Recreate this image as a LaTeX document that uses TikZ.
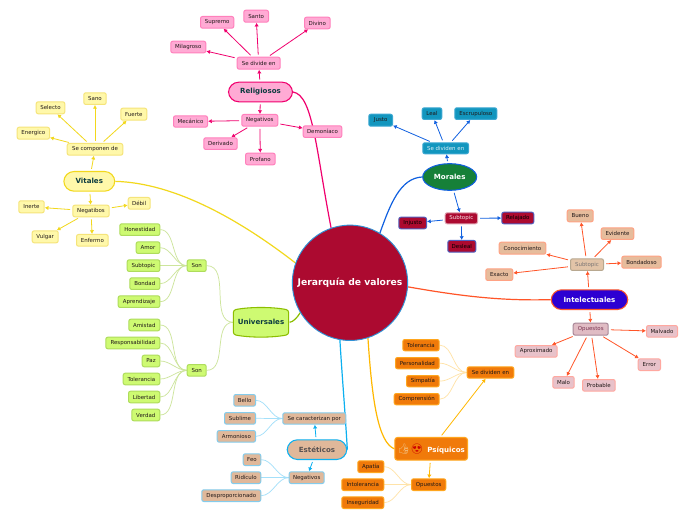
\documentclass[tikz,border=0pt]{standalone}
\usepackage{fontspec}
\setmainfont{DejaVu Sans}
\newfontfamily\emojifont{Noto Emoji}
\usetikzlibrary{arrows.meta,shapes.geometric}
\definecolor{rl}{HTML}{F0006E}\definecolor{rf}{HTML}{FFAAD4}\definecolor{rb}{HTML}{FF80BC}
\definecolor{vl}{HTML}{F2D81C}\definecolor{vf}{HTML}{FFF8AA}\definecolor{vb}{HTML}{F5E47A}
\definecolor{ul}{HTML}{CDE59C}\definecolor{uf}{HTML}{CEFA72}\definecolor{ub}{HTML}{AEDC5C}\definecolor{um}{HTML}{8CBE00}
\definecolor{el}{HTML}{A4E0FA}\definecolor{ef}{HTML}{E0B89A}\definecolor{eb}{HTML}{84CCEC}\definecolor{em}{HTML}{0CB0F0}
\definecolor{pl}{HTML}{FFE3A8}\definecolor{pf}{HTML}{F07A0A}\definecolor{pb}{HTML}{FFA61E}\definecolor{pm}{HTML}{FFB800}
\definecolor{ml}{HTML}{1060E0}\definecolor{mf}{HTML}{1296BE}\definecolor{mb}{HTML}{3CA8D2}
\definecolor{dr}{HTML}{AC0A30}\definecolor{drb}{HTML}{5060C0}\definecolor{gr}{HTML}{168038}
\definecolor{il}{HTML}{FF5528}\definecolor{if}{HTML}{E6BC9C}\definecolor{ib}{HTML}{FFA284}
\definecolor{of}{HTML}{E8C2CA}\definecolor{ob}{HTML}{FFA8A0}\definecolor{opf}{HTML}{E0BCC4}\definecolor{opb}{HTML}{A88898}
\definecolor{stf}{HTML}{E2C4A8}\definecolor{stb}{HTML}{B8A890}
\definecolor{ink}{HTML}{201818}\definecolor{head}{HTML}{0C3C40}\definecolor{thumb}{HTML}{F2C488}
\pgfdeclarelayer{bg}\pgfsetlayers{bg,main}
\tikzset{
  box/.style={rectangle,rounded corners=1.5pt,inner sep=0pt,line width=.75pt,draw,font=\fontsize{4.1}{5}\selectfont,text=ink},
  big/.style={rectangle,inner sep=0pt,line width=.8pt,draw,font=\fontsize{5.3}{6}\selectfont\bfseries},
  rbox/.style={box,fill=rf,draw=rb}, vbox/.style={box,fill=vf,draw=vb},
  ubox/.style={box,fill=uf,draw=ub}, ebox/.style={box,fill=ef,draw=eb},
  pbox/.style={box,fill=pf,draw=pb}, mbox/.style={box,fill=mf,draw=mb},
  dbox/.style={box,fill=dr,draw=drb,text=black}, ibox/.style={box,fill=if,draw=ib},
  obox/.style={box,fill=of,draw=ob},
  main line/.style={line width=.9pt},
  arrowline/.style={line width=.6pt,shorten <=1.6pt,-{Latex[length=2.8pt,width=3.2pt]}},
  branch/.style={line width=.55pt}
}
\newcommand\bx[7]{\node[#1,minimum width={(#5-#3)*0.75pt-0.75pt},minimum height={(#6-#4)*0.75pt-0.75pt}] (#2) at ({(#3+#5)/2},{(#4+#6)/2}) {#7};}
\begin{document}
\begin{tikzpicture}[x=0.75pt,y=-0.75pt]
\begin{pgfonlayer}{bg}
\fill[white] (0,0) rectangle (696,520);
\end{pgfonlayer}
\useasboundingbox (0,0) rectangle (696,520);
% centre
\node[circle,minimum size=86.5pt,inner sep=0pt,fill=dr,draw=mb!70!ml,line width=.7pt,text=white,font=\fontsize{6.9}{8}\selectfont\bfseries] (ctr) at (350,282.8) {Jerarquía de valores};
% Religiosos
\bx{big,fill=rf,draw=rl,rounded corners=7.7pt,text=head}{reli}{228}{81.7}{293}{102.3}{Religiosos}
\bx{rbox}{rdiv}{236.7}{56.7}{280.7}{69.7}{Se divide en}
\bx{rbox}{sup}{200}{16}{234.3}{28.7}{Supremo}
\bx{rbox}{san}{243.3}{9.7}{269}{22.7}{Santo}
\bx{rbox}{div}{304}{16.7}{330.7}{29.3}{Divino}
\bx{rbox}{mil}{170.3}{40.7}{206.3}{53.3}{Milagroso}
\bx{rbox}{rneg}{241.3}{114}{278.3}{126.7}{Negativos}
\bx{rbox}{mec}{173}{115.3}{208}{127.7}{Mecánico}
\bx{rbox}{der}{203.3}{137.3}{237.7}{150}{Derivado}
\bx{rbox}{pro}{245}{152.7}{275.7}{165.3}{Profano}
\bx{rbox}{dem}{302.7}{125.3}{342.3}{138}{Demoníaco}
% Vitales
\bx{big,fill=vf,draw=vl,rounded corners=7.7pt,text=head}{vit}{63.3}{171}{115.3}{191.7}{Vitales}
\bx{vbox}{vcom}{66.7}{143}{123.3}{155.7}{Se componen de}
\bx{vbox}{sano}{83.3}{92.3}{106.7}{105}{Sano}
\bx{vbox}{sel}{35.7}{101.3}{65.3}{114.3}{Selecto}
\bx{vbox}{fue}{120.3}{107.7}{147.3}{120.7}{Fuerte}
\bx{vbox}{ene}{16.7}{126.7}{50}{139.7}{Energico}
\bx{vbox}{vneg}{72.3}{204.7}{109.7}{217.3}{Negatibos}
\bx{vbox}{ine}{18.3}{200.3}{44.7}{213.3}{Inerte}
\bx{vbox}{deb}{127.7}{197}{150.7}{209.7}{Débil}
\bx{vbox}{vul}{31.7}{230.3}{58.7}{243.3}{Vulgar}
\bx{vbox}{enf}{76}{234}{108.7}{246.7}{Enfermo}
% Universales
\bx{ubox}{hon}{119.3}{223.3}{160.3}{236}{Honestidad}
\bx{ubox}{amo}{135.7}{241.3}{160.3}{254}{Amor}
\bx{ubox}{sub}{126.7}{259.3}{160.3}{272}{Subtopic}
\bx{ubox}{bon}{129.3}{277.3}{160.3}{290}{Bondad}
\bx{ubox}{apr}{117.7}{295.3}{160.3}{308}{Aprendizaje}
\bx{ubox}{son}{186.7}{259.3}{206.7}{272}{Son}
\bx{ubox}{ami}{128.3}{318.7}{160.3}{331.3}{Amistad}
\bx{ubox}{res}{105.3}{336.7}{160.3}{349.3}{Responsabilidad}
\bx{ubox}{paz}{141.7}{354.7}{160.3}{367.3}{Paz}
\bx{ubox}{tol}{122.7}{372.7}{160.3}{385.3}{Tolerancia}
\bx{ubox}{lib}{128}{390.7}{160.3}{403.3}{Libertad}
\bx{ubox}{ver}{131.3}{408.7}{160.3}{421.3}{Verdad}
\bx{ubox}{sonb}{186.7}{364}{206.7}{376.7}{Son}
\filldraw[fill=uf,draw=um,line width=.8pt,rounded corners=2pt] (233.3,310) .. controls (250,306.8) and (272,306.8) .. (288.7,310) -- (288.7,334.6) .. controls (272,337.8) and (250,337.8) .. (233.3,334.6) -- cycle;
\node[inner sep=0pt,minimum width=41pt,minimum height=22pt,text=head,font=\fontsize{5.3}{6}\selectfont\bfseries] (uni) at (261,322.3) {Universales};
% Esteticos
\bx{big,fill=ef,draw=em,rounded corners=7.7pt,text=ink!75}{est}{286.7}{439.3}{347.3}{460}{Estéticos}
\bx{ebox}{ecar}{282.3}{412.3}{346.3}{424.7}{Se caracterizan por}
\bx{ebox}{bel}{233.3}{394}{256}{406.7}{Bello}
\bx{ebox}{subl}{224}{412}{256}{424.7}{Sublime}
\bx{ebox}{arm}{216.7}{430}{256}{442.7}{Armonioso}
\bx{ebox}{feo}{242.7}{453.3}{261.3}{466}{Feo}
\bx{ebox}{rid}{230.7}{471.3}{261.3}{484}{Ridículo}
\bx{ebox}{des}{201.3}{489.3}{261.3}{502}{Desproporcionado}
\bx{ebox}{eneg}{288.7}{471.3}{324.7}{484}{Negativos}
% Psiquicos
\bx{big,fill=pf,draw=pb,rounded corners=2pt,text=white,path picture={\fill[yellow!85!orange] (417.3,449.5) circle (4.6);\fill[thumb,rounded corners=1pt] (401,448) rectangle (408.5,454.5);\fill[thumb] (403,449) -- (404,444) -- (406,444.5) -- (406.5,449) -- cycle;}}{psi}{394.3}{437}{468}{460.7}{{\emojifont\fontsize{7.5}{8}\selectfont\color{thumb}👍\hspace{.4pt}\color{red!80!black}😍}\hspace{3pt}Psíquicos}
\bx{pbox}{pdiv}{466.7}{366.3}{514.3}{378.7}{Se dividen en}
\bx{pbox}{ptol}{402.3}{339}{439.7}{351.3}{Tolerancia}
\bx{pbox}{per}{395}{357}{439.7}{369.3}{Personalidad}
\bx{pbox}{sim}{406}{375}{439.7}{387.3}{Simpatía}
\bx{pbox}{com}{393.7}{393}{439.7}{405.3}{Comprensión}
\bx{pbox}{apa}{357.3}{460.3}{384.3}{473}{Apatía}
\bx{pbox}{int}{341.3}{478.3}{384.3}{491}{Intolerancia}
\bx{pbox}{ins}{341.3}{496.3}{384.3}{509}{Inseguridad}
\bx{pbox}{opu}{411}{478.3}{446.3}{491}{Opuestos}
% Morales
\node[ellipse,inner sep=0pt,minimum width=40.5pt,minimum height=20pt,fill=gr,draw=ml,line width=.8pt,text=white,font=\fontsize{5.3}{6}\selectfont\bfseries] (mor) at (449.7,177) {Morales};
\bx{mbox,text=white!85!mf}{mdiv}{422.3}{142.3}{469}{154.3}{Se dividen en}
\bx{mbox}{jus}{368.3}{113.7}{393}{126.7}{Justo}
\bx{mbox}{lea}{421.7}{107.3}{442.3}{120}{Leal}
\bx{mbox}{esc}{454.3}{107.3}{497.3}{120}{Escrupuloso}
\bx{dbox,draw=white!60!dr,text=white!90!dr}{msub}{444.7}{212.3}{478}{224.3}{Subtopic}
\bx{dbox}{inj}{398.3}{216.7}{427}{229.3}{Injusto}
\bx{dbox}{rel}{501.3}{211.7}{534.3}{224.3}{Relajado}
\bx{dbox}{dsl}{447.3}{240}{476.3}{252.7}{Desleal}
% Intelectuales
\bx{big,fill=blue!65!violet,draw=il,rounded corners=7.7pt,text=white}{itl}{550.7}{289.3}{628.3}{310}{Intelectuales}
\bx{box,fill=stf,draw=stb,text=ink!60}{isub}{570}{258.3}{604}{271}{Subtopic}
\bx{ibox}{bue}{566.7}{209.3}{593.7}{222.3}{Bueno}
\bx{ibox}{evi}{600.7}{227.3}{634.3}{240}{Evidente}
\bx{ibox}{con}{498.7}{241.7}{546.3}{254.7}{Conocimiento}
\bx{ibox}{bnd}{621.3}{255.7}{661.7}{268.7}{Bondadoso}
\bx{ibox}{exa}{485.3}{268.3}{513.3}{281}{Exacto}
\bx{box,fill=opf,draw=opb,text={rgb,255:red,120;green,50;blue,80}}{iopu}{572.7}{322.7}{608.7}{335.7}{Opuestos}
\bx{obox}{mal}{646}{325}{678}{337.7}{Malvado}
\bx{obox}{apx}{514.7}{345}{557.7}{357.7}{Aproximado}
\bx{obox}{err}{637.7}{358.3}{661}{371}{Error}
\bx{obox}{mlo}{552.3}{376}{574.7}{388.7}{Malo}
\bx{obox}{prb}{582}{379}{615.7}{391.7}{Probable}
\begin{pgfonlayer}{bg}
% main branches
\draw[main line,rl] (reli.east) .. controls (313,95) and (316,150) .. (ctr.109);
\draw[main line,vl] (vit.east) .. controls (175,183) and (240,220) .. (ctr.160.6);
\draw[main line,um] (uni.east) ++(1,0) .. controls (293,322) and (297,318) .. (ctr.211);
\draw[main line,em] (ctr.260.5) .. controls (342,375) and (345,410) .. (est.east);
\draw[main line,pm] (ctr.288) .. controls (372,400) and (378,442) .. (psi.west);
\draw[main line,il] (itl.west) .. controls (500,301) and (460,296) .. (ctr.356);
\draw[main line,ml] (mor.west) .. controls (400,178) and (390,205) .. (ctr.59);
% arrows
\foreach \a/\b in {reli/rdiv,rdiv/sup,rdiv/san,rdiv/div,rdiv/mil,reli/rneg,rneg/mec,rneg/der,rneg/pro,rneg/dem}
  \draw[arrowline,rl] (\a) -- (\b);
\foreach \a/\b in {vit/vcom,vcom/sano,vcom/sel,vcom/fue,vcom/ene,vit/vneg,vneg/ine,vneg/deb,vneg/vul,vneg/enf}
  \draw[arrowline,vl] (\a) -- (\b);
\foreach \a/\b in {est/ecar,est/eneg}
  \draw[arrowline,em] (\a) -- (\b);
\foreach \a/\b in {psi/pdiv,psi/opu}
  \draw[arrowline,pm] (\a) -- (\b);
\foreach \a/\b in {mor/mdiv,mdiv/jus,mdiv/lea,mdiv/esc,mor/msub,msub/inj,msub/rel,msub/dsl}
  \draw[arrowline,ml] (\a) -- (\b);
\foreach \a/\b in {itl/isub,isub/bue,isub/evi,isub/con,isub/bnd,isub/exa,itl/iopu,iopu/mal,iopu/apx,iopu/err,iopu/mlo,iopu/prb}
  \draw[arrowline,il] (\a) -- (\b);
% curved branches
\foreach \a in {hon,amo,sub,bon,apr} \draw[branch,ul] (\a.east) to[out=0,in=180,looseness=.9] (son.west);
\foreach \a in {ami,res,paz,tol,lib,ver} \draw[branch,ul] (\a.east) to[out=0,in=180,looseness=.9] (sonb.west);
\foreach \a in {son,sonb} \draw[branch,ul] (\a.east) to[out=0,in=180] (uni.west);
\foreach \a in {bel,subl,arm} \draw[branch,el] (\a.east) to[out=0,in=180,looseness=.9] (ecar.west);
\foreach \a in {feo,rid,des} \draw[branch,el] (\a.east) to[out=0,in=180,looseness=.9] (eneg.west);
\foreach \a in {ptol,per,sim,com} \draw[branch,pl] (\a.east) to[out=0,in=180,looseness=.9] (pdiv.west);
\foreach \a in {apa,int,ins} \draw[branch,pl] (\a.east) to[out=0,in=180,looseness=.9] (opu.west);
\end{pgfonlayer}
\end{tikzpicture}
\end{document}
